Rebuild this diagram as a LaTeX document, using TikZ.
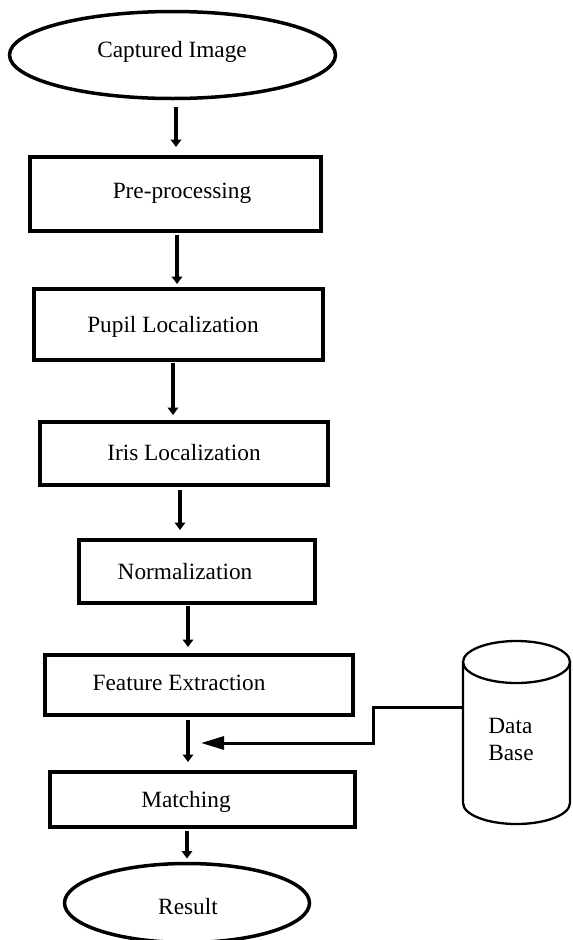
\documentclass[tikz,border=0pt]{standalone}
\usepackage{fontspec}
\setmainfont{Liberation Serif}
\usetikzlibrary{shapes.geometric,arrows.meta}
\tikzset{
  stepbox/.style={draw, line width=4pt, rectangle, inner sep=0pt, outer sep=0pt},
  termnode/.style={draw, line width=3.5pt, ellipse, inner sep=0pt, outer sep=0pt},
  arr/.style={line width=3.2pt, -{Triangle[width=10.5pt,length=7.5pt]}},
  dbarr/.style={line width=3pt, -{Triangle[width=13pt,length=23pt]}},
  cyl/.style={line width=2.3pt},
}
\begin{document}
\begin{tikzpicture}[x=1pt, y=-1pt, font=\fontsize{23.3}{27}\selectfont]
\useasboundingbox (0,0) rectangle (573,940);

\node[termnode, minimum width=326pt, minimum height=87pt,
  label={[xshift=-0.5pt,yshift=3pt]center:Captured Image}] (cap) at (172.5,55) {};
\node[stepbox, minimum width=291pt, minimum height=74pt,
  label={[xshift=6.5pt,yshift=1pt]center:Pre-processing}] (pre) at (175.5,194) {};
\node[stepbox, minimum width=289pt, minimum height=71pt,
  label={[xshift=-5.5pt,yshift=-2.5pt]center:Pupil Localization}] (pupil) at (178.5,324.5) {};
\node[stepbox, minimum width=288pt, minimum height=63pt,
  label={[xshift=0pt,yshift=0.5pt]center:Iris Localization}] (iris) at (184,453.5) {};
\node[stepbox, minimum width=236pt, minimum height=63pt,
  label={[xshift=-12pt,yshift=-0.5pt]center:Normalization}] (norm) at (197,571.5) {};
\node[stepbox, minimum width=308pt, minimum height=60pt,
  label={[xshift=-20pt,yshift=2pt]center:Feature Extraction}] (feat) at (199,685) {};
\node[stepbox, minimum width=305pt, minimum height=55pt,
  label={[xshift=-16pt,yshift=-2.5pt]center:Matching}] (match) at (202,799.5) {};
\node[termnode, minimum width=245pt, minimum height=79pt,
  label={[xshift=1pt,yshift=-4pt]center:Result}] (res) at (187,903) {};

% database cylinder
\node[minimum width=107pt, minimum height=183pt, inner sep=0pt, outer sep=0pt,
  label={[xshift=-5.5pt,yshift=-7pt,align=left]center:Data\\Base}] (db) at (516.5,732.5) {};
\draw[cyl] ([yshift=-21pt]db.north west) -- ([yshift=21pt]db.south west)
  arc[start angle=180, end angle=360, x radius=53.5pt, y radius=21pt]
  -- ([yshift=-21pt]db.north east);
\draw[cyl] ([yshift=-21pt]db.north) ellipse[x radius=53.5pt, y radius=21pt];

% flow arrows
\draw[arr, shorten <=8pt, shorten >=10pt] ([xshift=3.5pt]cap.south) -- ([xshift=3.5pt]cap.south |- pre.north);
\draw[arr, shorten <=4pt, shorten >=5pt] ([xshift=1.5pt]pre.south) -- ([xshift=1.5pt]pre.south |- pupil.north);
\draw[arr, shorten <=3pt, shorten >=7pt] ([xshift=-5.5pt]pupil.south) -- ([xshift=-5.5pt]pupil.south |- iris.north);
\draw[arr, shorten <=5pt, shorten >=10pt] ([xshift=-4pt]iris.south) -- ([xshift=-4pt]iris.south |- norm.north);
\draw[arr, shorten <=3pt, shorten >=8pt] ([xshift=-9pt]norm.south) -- ([xshift=-9pt]norm.south |- feat.north);
\draw[arr, shorten <=5pt, shorten >=10pt] ([xshift=-11pt]feat.south) -- ([xshift=-11pt]feat.south |- match.north);
\draw[arr, shorten <=4pt, shorten >=5pt] ([xshift=-15pt]match.south) -- ([xshift=-15pt]match.south |- res.north);

% database connector
\coordinate (tip) at (201,743);
\draw[dbarr] ([yshift=25.5pt]db.west) -- ++(-90,0) |- (tip);
\end{tikzpicture}
\end{document}
